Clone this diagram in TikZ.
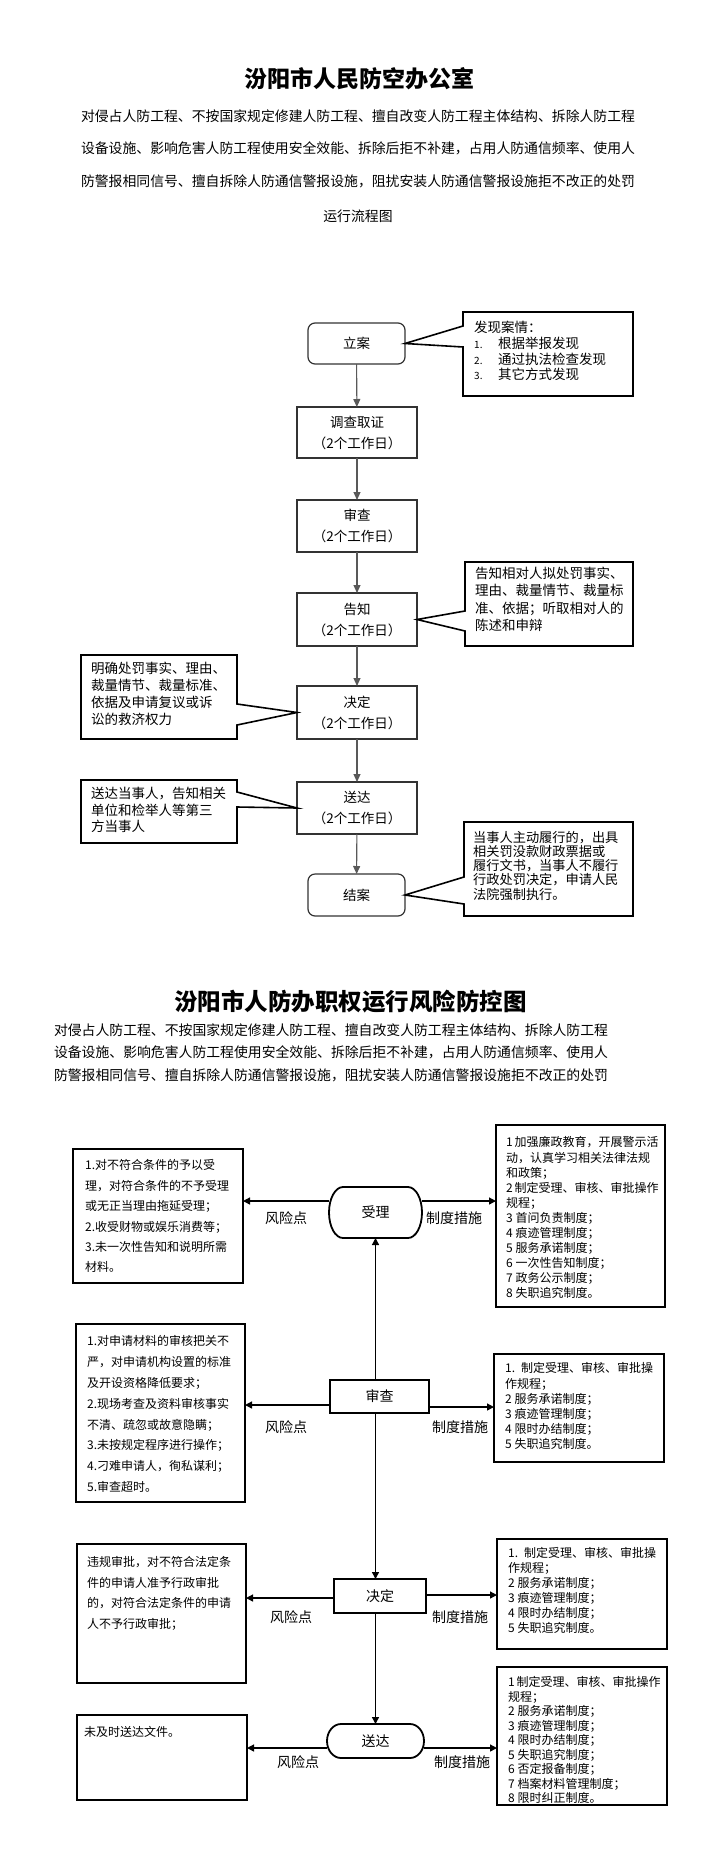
\documentclass[tikz,border=0pt]{standalone}
\usepackage{fontspec}
\setmainfont{Noto Sans CJK SC}
\usetikzlibrary{arrows.meta,calc}
\XeTeXlinebreaklocale "zh"
\XeTeXlinebreakskip=0pt plus 1pt
\hbadness=10000
\newcommand\bx[6]{\node[#2, minimum width={(#5)-(#3)}, minimum height={(#6)-(#4)}] (#1) at ({((#3)+(#5))/2},{((#4)+(#6))/2}) {};}
\newcommand\numlab[1]{\makebox[24pt][l]{\fontsize{10}{10}\selectfont #1}}
\newcommand\jl[2]{\makebox[#1][s]{#2}}
\begin{document}
\begin{tikzpicture}[x=1pt,y=-1pt,
  flow/.style={draw=black!80, line width=1.2pt, outer sep=0pt, align=center, inner sep=0pt},
  rflow/.style={flow, rounded corners=7pt},
  cbox/.style={draw=none, outer sep=0pt, inner sep=0pt},
  cline/.style={draw=black, line width=1.6pt, line join=miter},
  farr/.style={draw=black!65, line width=1.1pt, -{Triangle[length=8pt,width=7pt]}},
  lbox/.style={draw=black, line width=1.8pt, outer sep=0pt},
  lnode/.style={draw=none, outer sep=0pt, inner sep=0pt, font=\fontsize{14}{14}\selectfont},
  larr/.style={draw=black, line width=1.3pt, -{Triangle[length=7pt,width=7pt]}},
  t/.style={inner sep=0pt, align=left, anchor=north west},
  lab/.style={inner sep=0pt, font=\fontsize{14}{14}\selectfont},
  para/.style={inner sep=0pt, font=\fontsize{13.85}{14}\selectfont},
  ftxt/.style={font=\fontsize{13.5}{21}\selectfont}]
\useasboundingbox (0,0) rectangle (704,1857);
\fill[white] (0,0) rectangle (704,1857);

% ---------- part 1 ----------
\node[inner sep=0pt, font=\fontsize{23}{23}\selectfont\bfseries] (title1) at (359,79) {汾阳市人民防空办公室};
\node[para] (p11) at (358,116) {对侵占人防工程、不按国家规定修建人防工程、擅自改变人防工程主体结构、拆除人防工程};
\node[para] (p12) at (358,148.5) {设备设施、影响危害人防工程使用安全效能、拆除后拒不补建，占用人防通信频率、使用人};
\node[para] (p13) at (358,181.5) {防警报相同信号、擅自拆除人防通信警报设施，阻扰安装人防通信警报设施拒不改正的处罚};
\node[para] (p14) at (358,216) {运行流程图};

\node[rflow, ftxt, minimum width=97, minimum height=41] (lian) at (356.5,343.5) {立案};
\node[flow, ftxt, minimum width=120, minimum height=51] (diaocha) at (357,432.5) {调查取证\\（2个工作日）};
\node[flow, ftxt, minimum width=120, minimum height=52] (shencha) at (357,526) {审查\\（2个工作日）};
\node[flow, ftxt, minimum width=120, minimum height=53] (gaozhi) at (357,619.5) {告知\\（2个工作日）};
\node[flow, ftxt, minimum width=120, minimum height=53] (jueding) at (357,712.5) {决定\\（2个工作日）};
\node[flow, ftxt, minimum width=120, minimum height=52] (songda) at (357,808) {送达\\（2个工作日）};
\node[rflow, ftxt, minimum width=97, minimum height=42] (jiean) at (356.5,895) {结案};

\draw[farr] (lian) -- (diaocha);
\draw[farr] (diaocha) -- (shencha);
\draw[farr] (shencha) -- (gaozhi);
\draw[farr] (gaozhi) -- (jueding);
\draw[farr] (jueding) -- (songda);
\draw[farr] (songda) -- (jiean);

% callouts
\bx{c1}{cbox}{463}{312}{633}{396}
\draw[cline] (c1.north west) -- (c1.north east) -- (c1.south east) -- (c1.south west) -- (c1.west |- 0,347) -- (lian.east) -- (c1.west |- 0,326) -- cycle;
\node[t, font=\fontsize{13.5}{15.7}\selectfont] (c1t) at (474,321) {发现案情：\\\numlab{1.}根据举报发现\\\numlab{2.}通过执法检查发现\\\numlab{3.}其它方式发现};

\bx{c2}{cbox}{465}{562}{633}{646}
\draw[cline] (c2.north west) -- (c2.north east) -- (c2.south east) -- (c2.south west) -- (c2.west |- 0,631) -- (gaozhi.east) -- (c2.west |- 0,611) -- cycle;
\node[t, font=\fontsize{13.5}{17.3}\selectfont] (c2t) at (475,567) {告知相对人拟处罚事实、\\理由、裁量情节、裁量标\\准、依据；听取相对人的\\陈述和申辩};

\bx{c3}{cbox}{81}{655}{237}{739}
\draw[cline] (c3.north west) -- (c3.north east) -- (c3.east |- 0,704) -- (jueding.west) -- (c3.east |- 0,725) -- (c3.south east) -- (c3.south west) -- cycle;
\node[t, font=\fontsize{13.5}{16.8}\selectfont] (c3t) at (91,662) {明确处罚事实、理由、\\裁量情节、裁量标准、\\\jl{135pt}{依据及申请复议或诉}\\讼的救济权力};

\bx{c4}{cbox}{81}{780}{237}{843}
\draw[cline] (c4.north west) -- (c4.north east) -- (c4.east |- 0,792) -- (songda.west) -- (c4.east |- 0,807) -- (c4.south east) -- (c4.south west) -- cycle;
\node[t, font=\fontsize{13.5}{16.5}\selectfont] (c4t) at (91,787) {送达当事人，告知相关\\\jl{135pt}{单位和检举人等第三}\\方当事人};

\bx{c5}{cbox}{464}{822}{633}{916}
\draw[cline] (c5.north west) -- (c5.north east) -- (c5.south east) -- (c5.south west) -- (c5.west |- 0,904) -- (jiean.east) -- (c5.west |- 0,877) -- cycle;
\node[t, font=\fontsize{13.2}{14.2}\selectfont] (c5t) at (473,831) {当事人主动履行的，出具\\\jl{145pt}{相关罚没款财政票据或}\\履行文书，当事人不履行\\行政处罚决定，申请人民\\法院强制执行。};

% ---------- part 2 ----------
\node[inner sep=0pt, font=\fontsize{23.5}{23.5}\selectfont\bfseries] (title2) at (350.5,1002) {汾阳市人防办职权运行风险防控图};
\node[para] (p21) at (331,1030) {对侵占人防工程、不按国家规定修建人防工程、擅自改变人防工程主体结构、拆除人防工程};
\node[para] (p22) at (331,1052.5) {设备设施、影响危害人防工程使用安全效能、拆除后拒不补建，占用人防通信频率、使用人};
\node[para] (p23) at (331,1075) {防警报相同信号、擅自拆除人防通信警报设施，阻扰安装人防通信警报设施拒不改正的处罚};

% flow nodes
\node[lnode, minimum width=93, minimum height=51] (shouli) at (375.5,1212.5) {受理};
\draw[lbox] ([xshift=14pt]shouli.north west) -- ([xshift=-14pt]shouli.north east)
  arc[start angle=90, end angle=-90, x radius=14pt, y radius=25.5pt]
  -- ([xshift=14pt]shouli.south west)
  arc[start angle=270, end angle=90, x radius=14pt, y radius=25.5pt] -- cycle;
\node[lbox, font=\fontsize{14}{14}\selectfont, minimum width=99, minimum height=33] (shencha2) at (379.5,1396.5) {审查};
\node[lbox, font=\fontsize{14}{14}\selectfont, minimum width=92, minimum height=34] (jueding2) at (380,1596) {决定};
\node[lnode, minimum width=97, minimum height=34] (songda2) at (375.5,1741) {送达};
\draw[lbox] ([xshift=14pt]songda2.north west) -- ([xshift=-14pt]songda2.north east)
  arc[start angle=90, end angle=-90, x radius=14pt, y radius=17pt]
  -- ([xshift=14pt]songda2.south west)
  arc[start angle=270, end angle=90, x radius=14pt, y radius=17pt] -- cycle;

% boxes
\bx{R1}{lbox}{496}{1125}{665}{1307}
\bx{L1}{lbox}{73}{1149}{243}{1283}
\bx{L2}{lbox}{76}{1324}{245}{1502}
\bx{R2}{lbox}{494}{1354}{664}{1462}
\bx{L3}{lbox}{77}{1544}{246}{1683}
\bx{R3}{lbox}{497}{1539}{667}{1649}
\bx{L4}{lbox}{77}{1715}{247}{1800}
\bx{R4}{lbox}{497}{1667}{667}{1805}

% vertical connectors
\draw[larr] (shencha2.north -| shouli.south) -- (shouli.south);
\draw[larr] (shencha2.south -| songda2.north) -- (jueding2.north -| songda2.north);
\draw[larr] (jueding2.south -| songda2.north) -- (songda2.north);

% horizontal connectors
\draw[larr] ([yshift=11.5pt]shouli.west) -- ([yshift=11.5pt]shouli.west -| L1.east);
\draw[larr] ([yshift=11.5pt]shouli.east) -- ([yshift=11.5pt]shouli.east -| R1.west);
\draw[larr] ([yshift=-8.5pt]shencha2.west) -- ([yshift=-8.5pt]shencha2.west -| L2.east);
\draw[larr] ([yshift=-10.5pt]shencha2.east) -- ([yshift=-10.5pt]shencha2.east -| R2.west);
\draw[larr] ([yshift=-2pt]jueding2.west) -- ([yshift=-2pt]jueding2.west -| L3.east);
\draw[larr] ([yshift=1pt]jueding2.east) -- ([yshift=1pt]jueding2.east -| R3.west);
\draw[larr] ([yshift=-7pt]songda2.west) -- ([yshift=-7pt]songda2.west -| L4.east);
\draw[larr] ([yshift=-7pt]songda2.east) -- ([yshift=-7pt]songda2.east -| R4.west);

% labels
\node[lab] (fx1) at (286,1218) {风险点};
\node[lab] (zd1) at (454,1218) {制度措施};
\node[lab] (fx2) at (286,1427) {风险点};
\node[lab] (zd2) at (460,1427) {制度措施};
\node[lab] (fx3) at (291,1617) {风险点};
\node[lab] (zd3) at (460,1617) {制度措施};
\node[lab] (fx4) at (298,1762) {风险点};
\node[lab] (zd4) at (462,1762) {制度措施};

% box texts
\node[t, font=\fontsize{12}{20.4}\selectfont] (L1t) at (85,1159.6) {\jl{147pt}{1.对不符合条件的予以受}\\\jl{147pt}{理，对符合条件的不予受理}\\或无正当理由拖延受理；\\2.收受财物或娱乐消费等；\\\jl{147pt}{3.未一次性告知和说明所需}\\材料。};
\node[t, font=\fontsize{12}{15.1}\selectfont] (R1t) at (506,1136.6) {\jl{147pt}{1 加强廉政教育，开展警示活}\\\jl{147pt}{动，认真学习相关法律法规}\\和政策；\\\jl{147pt}{2 制定受理、审核、审批操作}\\规程；\\3 首问负责制度；\\4 痕迹管理制度；\\5 服务承诺制度；\\6 一次性告知制度；\\7 政务公示制度；\\8 失职追究制度。};
\node[t, font=\fontsize{12}{20.8}\selectfont] (L2t) at (87,1335.6) {\jl{145pt}{1.对申请材料的审核把关不}\\\jl{145pt}{严，对申请机构设置的标准}\\及开设资格降低要求；\\\jl{145pt}{2.现场考查及资料审核事实}\\不清、疏忽或故意隐瞒；\\3.未按规定程序进行操作；\\4.刁难申请人，徇私谋利；\\5.审查超时。};
\node[t, font=\fontsize{12}{15.2}\selectfont] (R2t) at (505,1362.6) {\jl{148pt}{1. 制定受理、审核、审批操}\\作规程；\\2 服务承诺制度；\\3 痕迹管理制度；\\4 限时办结制度；\\5 失职追究制度。};
\node[t, font=\fontsize{12}{20.5}\selectfont] (L3t) at (87,1556.6) {\jl{146pt}{违规审批，对不符合法定条}\\\jl{146pt}{件的申请人准予行政审批}\\\jl{146pt}{的，对符合法定条件的申请}\\人不予行政审批；};
\node[t, font=\fontsize{12}{15}\selectfont] (R3t) at (508,1547.6) {\jl{148pt}{1. 制定受理、审核、审批操}\\作规程；\\2 服务承诺制度；\\3 痕迹管理制度；\\4 限时办结制度；\\5 失职追究制度。};
\node[t, font=\fontsize{12}{15}\selectfont] (L4t) at (84,1726.6) {未及时送达文件。};
\node[t, font=\fontsize{12}{14.5}\selectfont] (R4t) at (508,1676.6) {\jl{148pt}{1 制定受理、审核、审批操作}\\规程；\\2 服务承诺制度；\\3 痕迹管理制度；\\4 限时办结制度；\\5 失职追究制度；\\6 否定报备制度；\\7 档案材料管理制度；\\8 限时纠正制度。};
\end{tikzpicture}
\end{document}
